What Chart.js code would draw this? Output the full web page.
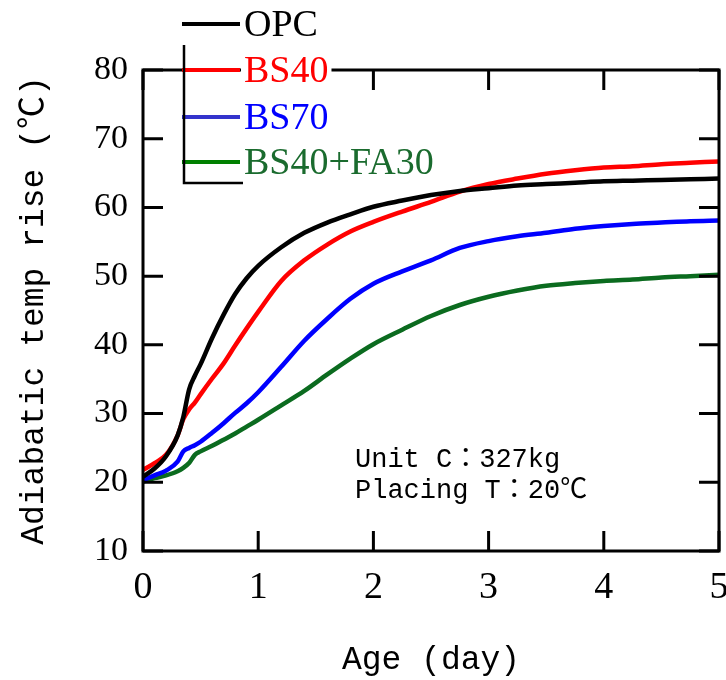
<!DOCTYPE html>
<html>
<head>
<meta charset="utf-8">
<script src="https://cdn.jsdelivr.net/npm/chart.js@4/dist/chart.umd.min.js"></script>
<style>
  body { margin: 0; background: #fff; }
</style>
</head>
<body>
<canvas id="temp" width="726" height="680"></canvas>
<script>
// adiabatic temperature rise curves
var ages = [0, 0.1, 0.2, 0.3, 0.35, 0.4, 0.45, 0.5, 0.6, 0.7, 0.8, 0.9, 1.0, 1.2, 1.4, 1.6, 1.8, 2.0,
            2.25, 2.5, 2.75, 3.0, 3.25, 3.5, 3.75, 4.0, 4.25, 4.5, 4.75, 5.0];
var opc = [20.8, 22.0, 23.8, 26.8, 29.5, 33.5, 35.5, 37.2, 41.0, 44.4, 47.4, 49.7, 51.5, 54.2, 56.3, 57.8, 59.0, 60.1,
           61.0, 61.8, 62.4, 62.8, 63.2, 63.4, 63.6, 63.8, 63.9, 64.0, 64.1, 64.2];
var bs40 = [21.8, 22.8, 24.0, 26.8, 29.2, 30.6, 31.6, 32.8, 35.1, 37.3, 39.9, 42.4, 44.8, 49.3, 52.3, 54.6, 56.5, 57.9,
            59.4, 60.8, 62.3, 63.4, 64.2, 64.9, 65.4, 65.8, 66.0, 66.3, 66.5, 66.7];
var bs70 = [20.3, 21.0, 21.7, 23.0, 24.5, 25.0, 25.4, 25.9, 27.2, 28.6, 30.1, 31.5, 33.1, 36.8, 40.6, 43.8, 46.7, 48.9,
            50.7, 52.3, 54.1, 55.1, 55.8, 56.3, 56.9, 57.3, 57.6, 57.8, 58.0, 58.1];
var bs40fa30 = [20.1, 20.6, 21.0, 21.6, 22.1, 22.8, 24.0, 24.5, 25.3, 26.2, 27.1, 28.1, 29.1, 31.2, 33.3, 35.7, 38.0, 40.1,
                42.2, 44.2, 45.8, 47.0, 47.9, 48.6, 49.0, 49.3, 49.5, 49.8, 50.0, 50.2];

var seriesNames = ['OPC', 'BS40', 'BS70', 'BS40+FA30'];
var xTicks = [0, 1, 2, 3, 4, 5];
var yTicks = [10, 20, 30, 40, 50, 60, 70, 80];
var noteLines = ['Unit C\uFF1A327kg', 'Placing T\uFF1A20\u2103'];

function pts(vals) {
    return ages.map(function (a, i) { return { x: a, y: vals[i] }; });
}

var lineColors = ['#000000', '#ff0000', '#0000ff', '#0b6b1f'];
var keyColors = ['#000000', '#ff0000', '#3333cc', '#008000'];
var textColors = ['#000000', '#ff0000', '#0000ff', '#1a6b2e'];

// box, inward ticks, legend and note
var decor = {
    id: 'decor',
    afterDatasetsDraw: function (chart) {
        var ctx = chart.ctx, a = chart.chartArea;
        var x = chart.scales.x, y = chart.scales.y;
        ctx.save();
        ctx.strokeStyle = '#000';
        ctx.lineWidth = 3;
        ctx.strokeRect(a.left, a.top, a.right - a.left, a.bottom - a.top);
        ctx.beginPath();
        xTicks.forEach(function (v) {
            var px = x.getPixelForValue(v);
            ctx.moveTo(px, a.bottom); ctx.lineTo(px, a.bottom - 20);
            ctx.moveTo(px, a.top); ctx.lineTo(px, a.top + 20);
        });
        yTicks.forEach(function (v) {
            var py = y.getPixelForValue(v);
            ctx.moveTo(a.left, py); ctx.lineTo(a.left + 20, py);
            ctx.moveTo(a.right, py); ctx.lineTo(a.right - 20, py);
        });
        ctx.stroke();

        // note
        ctx.fillStyle = '#000';
        ctx.font = '27px "Liberation Mono", "Noto Sans CJK JP"';
        ctx.textBaseline = 'alphabetic';
        ctx.fillText(noteLines[0], 355, 467);
        ctx.fillText(noteLines[1], 355, 498);

        // legend
        var rows = [24, 70, 117, 162];
        ctx.font = '38px "Liberation Serif"';
        ctx.textBaseline = 'middle';
        seriesNames.forEach(function (name, i) {
            var w = ctx.measureText(name).width;
            ctx.fillStyle = '#fff';
            ctx.fillRect(241, rows[i] - 21, w + 6, 42);
            ctx.strokeStyle = keyColors[i];
            ctx.lineWidth = 4;
            ctx.beginPath();
            ctx.moveTo(182, rows[i]); ctx.lineTo(240, rows[i]);
            ctx.stroke();
            ctx.fillStyle = textColors[i];
            ctx.fillText(name, 244, rows[i] + 2);
        });
        ctx.strokeStyle = '#000';
        ctx.lineWidth = 2.5;
        ctx.beginPath();
        ctx.moveTo(184, 45); ctx.lineTo(184, 183); ctx.lineTo(243, 183);
        ctx.stroke();
        ctx.restore();
    }
};

var ctx = document.getElementById('temp').getContext('2d');
var myChart = new Chart(ctx, {
    type: 'line',
    data: {
        datasets: [opc, bs40, bs70, bs40fa30].map(function (vals, i) {
            return {
                label: seriesNames[i],
                data: pts(vals),
                borderColor: lineColors[i],
                borderWidth: 4.5,
                pointRadius: 0,
                cubicInterpolationMode: 'monotone',
                fill: false
            };
        })
    },
    options: {
        responsive: false,
        animation: false,
        layout: { padding: { top: 70, right: 7, left: 0, bottom: 0 } },
        plugins: { legend: { display: false }, tooltip: { enabled: false } },
        scales: {
            x: {
                type: 'linear',
                min: 0, max: 5,
                afterFit: function (s) { s.height = 129; s.paddingLeft = 0; s.paddingRight = 0; },
                grid: { display: false, drawTicks: false },
                border: { display: false },
                ticks: {
                    stepSize: 1,
                    padding: 14,
                    color: '#000',
                    font: { family: 'Liberation Serif', size: 38 }
                },
                title: {
                    display: true,
                    text: 'Age (day)',
                    color: '#000',
                    padding: 0,
                    font: { family: '"Liberation Mono", "Noto Sans CJK JP"', size: 33 }
                }
            },
            y: {
                min: 10, max: 80,
                afterFit: function (s) { s.width = 143; s.paddingTop = 0; s.paddingBottom = 0; },
                grid: { display: false, drawTicks: false },
                border: { display: false },
                ticks: {
                    stepSize: 10,
                    padding: 15,
                    color: '#000',
                    font: { family: 'Liberation Serif', size: 34 }
                },
                title: {
                    display: true,
                    text: 'Adiabatic temp rise (\u2103)',
                    color: '#000',
                    padding: { top: 14, bottom: 0 },
                    font: { family: '"Liberation Mono", "Noto Sans CJK JP"', size: 33 }
                }
            }
        }
    },
    plugins: [decor]
});
</script>
</body>
</html>
